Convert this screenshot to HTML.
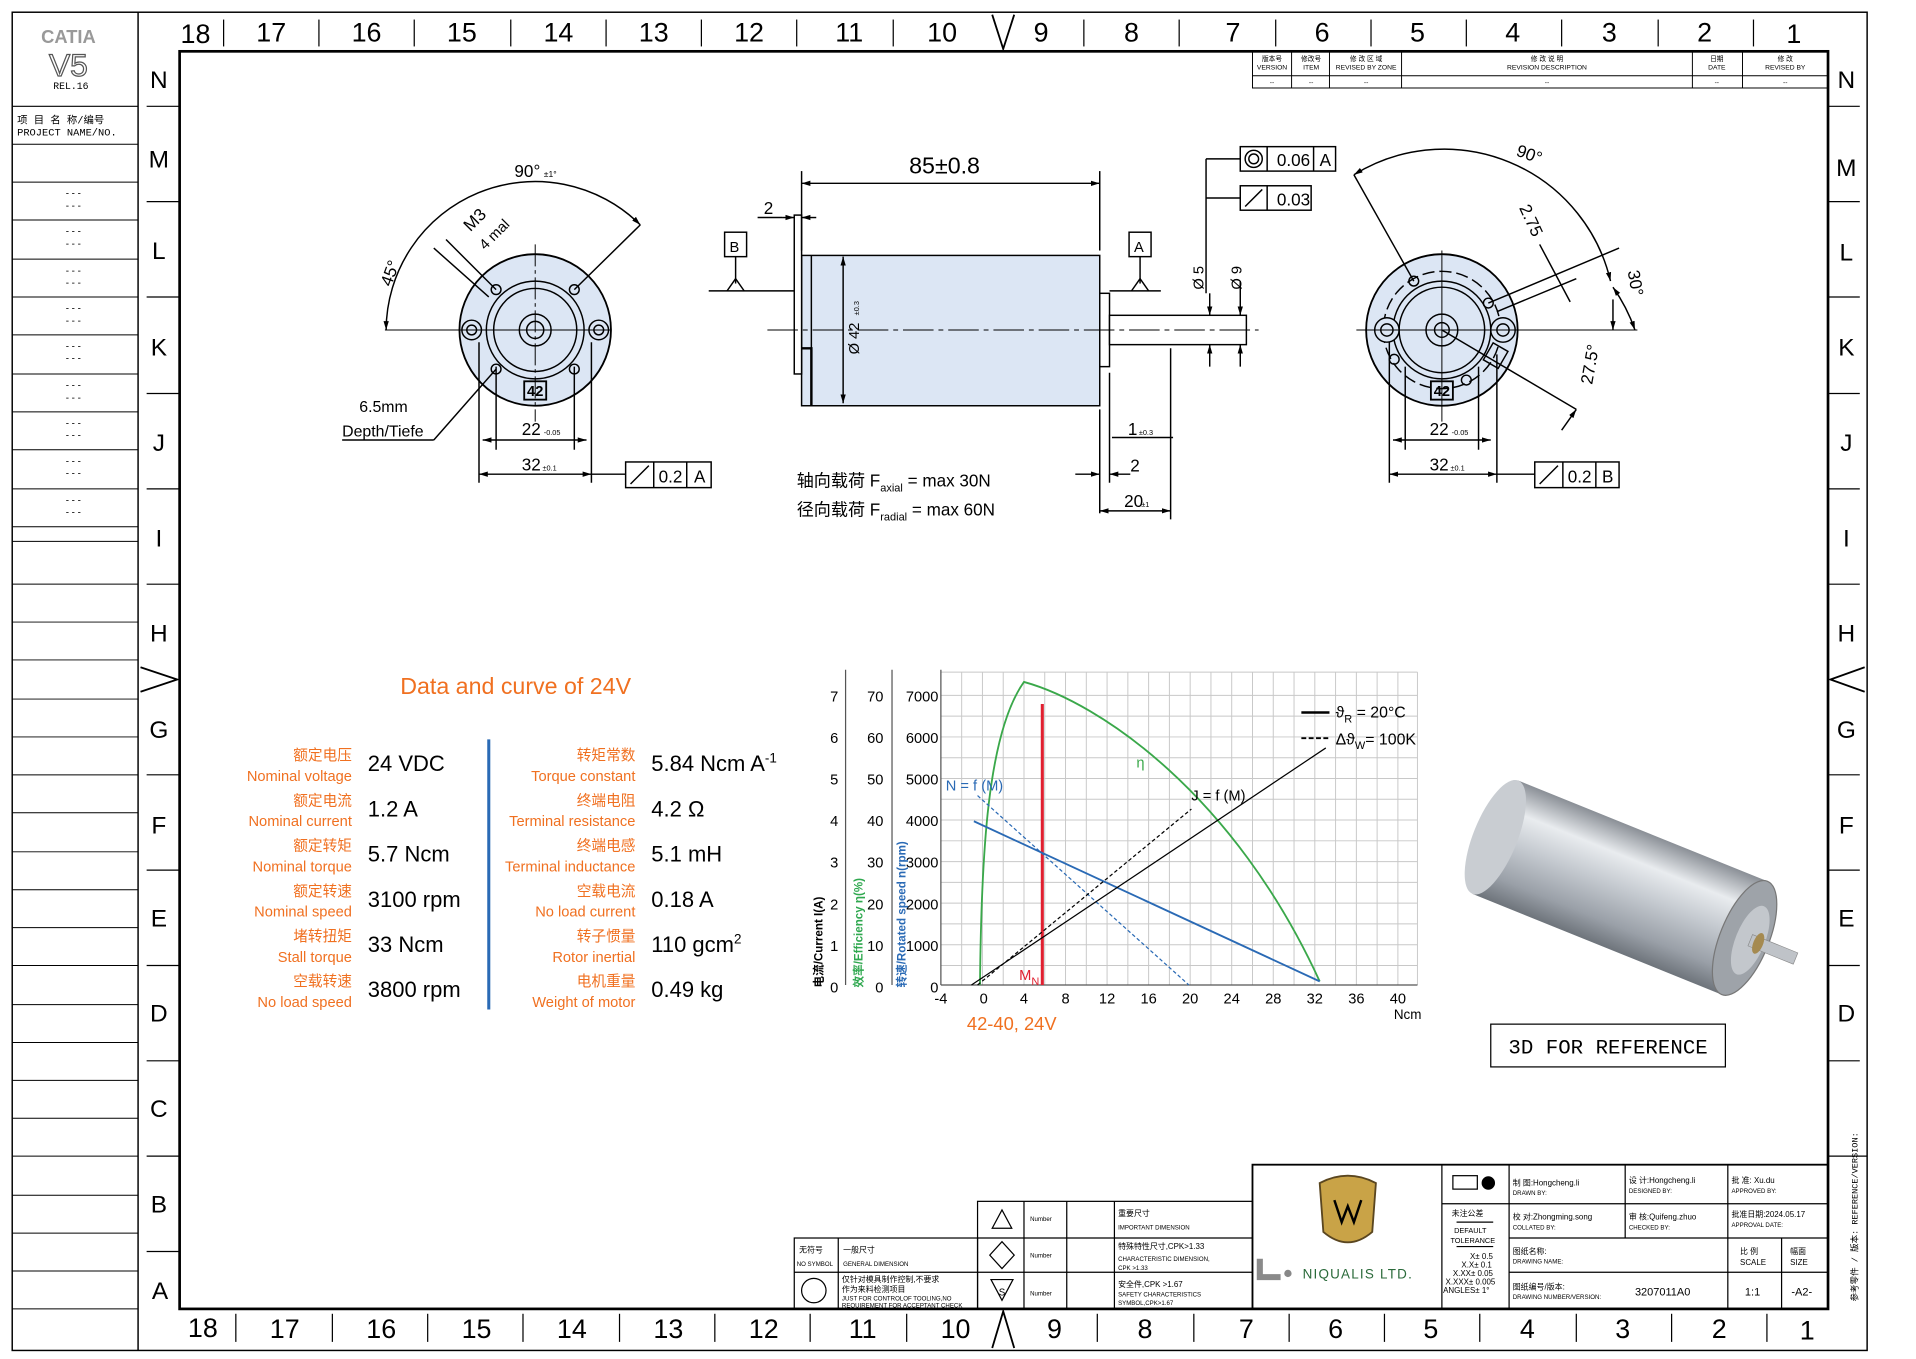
<!DOCTYPE html>
<html><head><meta charset="utf-8"><style>
html,body{margin:0;padding:0;background:#fff;}
svg{display:block;}
text{font-family:"Liberation Sans","Noto Sans CJK SC",sans-serif;}
.n{font-family:"Liberation Sans Narrow","Liberation Sans","Noto Sans CJK SC",sans-serif;}
.m{font-family:"Liberation Mono","Noto Sans CJK SC",monospace;}
</style></head><body>
<svg width="1916" height="1359" viewBox="0 0 1568 1112" preserveAspectRatio="none" xmlns="http://www.w3.org/2000/svg">
<defs>
<marker id="ar" viewBox="0 0 10 10" refX="10" refY="5" markerWidth="6" markerHeight="6" orient="auto-start-reverse"><path d="M0,2 L10,5 L0,8 z" fill="#000"/></marker>
<linearGradient id="cyl" x1="0" y1="0" x2="0" y2="1"><stop offset="0" stop-color="#8a8f96"/><stop offset="0.25" stop-color="#e9ecef"/><stop offset="0.5" stop-color="#c5cad0"/><stop offset="0.8" stop-color="#9aa0a8"/><stop offset="1" stop-color="#6e747b"/></linearGradient>
</defs>
<rect x="10" y="10" width="1518" height="1095" fill="none" stroke="#000" stroke-width="1.2"/>
<line x1="113" y1="10" x2="113" y2="1105" stroke="#000" stroke-width="1.2"/>
<rect x="147" y="42" width="1349" height="1029" fill="none" stroke="#000" stroke-width="2.2"/>
<text x="56" y="35" font-size="15" text-anchor="middle" fill="#999" font-weight="bold">CATIA</text>
<text x="56" y="62" font-size="26" text-anchor="middle" fill="#fff" stroke="#555" stroke-width="1">V5</text>
<text x="58" y="73" font-size="8" text-anchor="middle" class="m">REL.16</text>
<line x1="10" y1="87" x2="113" y2="87" stroke="#000"/>
<text x="14" y="101" font-size="8.5" class="m">项 目 名 称/编号</text>
<text x="14" y="111" font-size="8.5" class="m">PROJECT NAME/NO.</text>
<g stroke="#000" stroke-width="0.8">
<line x1="10" y1="118" x2="113" y2="118"/><line x1="10" y1="149" x2="113" y2="149"/><line x1="10" y1="180" x2="113" y2="180"/><line x1="10" y1="212" x2="113" y2="212"/><line x1="10" y1="243" x2="113" y2="243"/><line x1="10" y1="274" x2="113" y2="274"/><line x1="10" y1="306" x2="113" y2="306"/><line x1="10" y1="337" x2="113" y2="337"/><line x1="10" y1="368" x2="113" y2="368"/><line x1="10" y1="400" x2="113" y2="400"/><line x1="10" y1="431" x2="113" y2="431"/><line x1="10" y1="443" x2="113" y2="443"/>
<line x1="10" y1="478" x2="113" y2="478"/><line x1="10" y1="509" x2="113" y2="509"/><line x1="10" y1="540" x2="113" y2="540"/><line x1="10" y1="572" x2="113" y2="572"/><line x1="10" y1="603" x2="113" y2="603"/><line x1="10" y1="634" x2="113" y2="634"/><line x1="10" y1="665" x2="113" y2="665"/><line x1="10" y1="697" x2="113" y2="697"/><line x1="10" y1="728" x2="113" y2="728"/><line x1="10" y1="759" x2="113" y2="759"/><line x1="10" y1="790" x2="113" y2="790"/><line x1="10" y1="822" x2="113" y2="822"/><line x1="10" y1="853" x2="113" y2="853"/><line x1="10" y1="884" x2="113" y2="884"/><line x1="10" y1="915" x2="113" y2="915"/><line x1="10" y1="946" x2="113" y2="946"/><line x1="10" y1="978" x2="113" y2="978"/><line x1="10" y1="1009" x2="113" y2="1009"/><line x1="10" y1="1040" x2="113" y2="1040"/><line x1="10" y1="1071" x2="113" y2="1071"/>
</g>
<g font-size="8" text-anchor="middle" class="m">
<text x="60" y="161">- - -</text><text x="60" y="171">- - -</text>
<text x="60" y="192">- - -</text><text x="60" y="202">- - -</text>
<text x="60" y="224">- - -</text><text x="60" y="234">- - -</text>
<text x="60" y="255">- - -</text><text x="60" y="265">- - -</text>
<text x="60" y="286">- - -</text><text x="60" y="296">- - -</text>
<text x="60" y="318">- - -</text><text x="60" y="328">- - -</text>
<text x="60" y="349">- - -</text><text x="60" y="359">- - -</text>
<text x="60" y="380">- - -</text><text x="60" y="390">- - -</text>
<text x="60" y="412">- - -</text><text x="60" y="422">- - -</text>
</g>
<g font-size="22" text-anchor="middle">
<text x="160" y="35">18</text><text x="222" y="34">17</text><text x="300" y="34">16</text><text x="378" y="34">15</text><text x="457" y="34">14</text><text x="535" y="34">13</text><text x="613" y="34">12</text><text x="695" y="34">11</text><text x="771" y="34">10</text><text x="852" y="34">9</text><text x="926" y="34">8</text><text x="1009" y="34">7</text><text x="1082" y="34">6</text><text x="1160" y="34">5</text><text x="1238" y="34">4</text><text x="1317" y="34">3</text><text x="1395" y="34">2</text><text x="1468" y="35">1</text>
<text x="166" y="1094">18</text><text x="233" y="1095">17</text><text x="312" y="1095">16</text><text x="390" y="1095">15</text><text x="468" y="1095">14</text><text x="547" y="1095">13</text><text x="625" y="1095">12</text><text x="706" y="1095">11</text><text x="782" y="1095">10</text><text x="863" y="1095">9</text><text x="937" y="1095">8</text><text x="1020" y="1095">7</text><text x="1093" y="1095">6</text><text x="1171" y="1095">5</text><text x="1250" y="1095">4</text><text x="1328" y="1095">3</text><text x="1407" y="1095">2</text><text x="1479" y="1096">1</text>
</g>
<g stroke="#000" stroke-width="1">
<line x1="183" y1="16" x2="183" y2="38"/><line x1="261" y1="16" x2="261" y2="38"/><line x1="339" y1="16" x2="339" y2="38"/><line x1="418" y1="16" x2="418" y2="38"/><line x1="496" y1="16" x2="496" y2="38"/><line x1="574" y1="16" x2="574" y2="38"/><line x1="652" y1="16" x2="652" y2="38"/><line x1="731" y1="16" x2="731" y2="38"/><line x1="887" y1="16" x2="887" y2="38"/><line x1="965" y1="16" x2="965" y2="38"/><line x1="1044" y1="16" x2="1044" y2="38"/><line x1="1122" y1="16" x2="1122" y2="38"/><line x1="1200" y1="16" x2="1200" y2="38"/><line x1="1278" y1="16" x2="1278" y2="38"/><line x1="1357" y1="16" x2="1357" y2="38"/><line x1="1435" y1="16" x2="1435" y2="38"/>
<line x1="193" y1="1075" x2="193" y2="1098"/><line x1="272" y1="1075" x2="272" y2="1098"/><line x1="350" y1="1075" x2="350" y2="1098"/><line x1="428" y1="1075" x2="428" y2="1098"/><line x1="507" y1="1075" x2="507" y2="1098"/><line x1="585" y1="1075" x2="585" y2="1098"/><line x1="663" y1="1075" x2="663" y2="1098"/><line x1="742" y1="1075" x2="742" y2="1098"/><line x1="898" y1="1075" x2="898" y2="1098"/><line x1="977" y1="1075" x2="977" y2="1098"/><line x1="1055" y1="1075" x2="1055" y2="1098"/><line x1="1133" y1="1075" x2="1133" y2="1098"/><line x1="1211" y1="1075" x2="1211" y2="1098"/><line x1="1290" y1="1075" x2="1290" y2="1098"/><line x1="1368" y1="1075" x2="1368" y2="1098"/><line x1="1446" y1="1075" x2="1446" y2="1098"/>
<line x1="120" y1="87" x2="147" y2="87"/><line x1="120" y1="165" x2="147" y2="165"/><line x1="120" y1="243" x2="147" y2="243"/><line x1="120" y1="322" x2="147" y2="322"/><line x1="120" y1="400" x2="147" y2="400"/><line x1="120" y1="478" x2="147" y2="478"/><line x1="120" y1="634" x2="147" y2="634"/><line x1="120" y1="712" x2="147" y2="712"/><line x1="120" y1="790" x2="147" y2="790"/><line x1="120" y1="868" x2="147" y2="868"/><line x1="120" y1="946" x2="147" y2="946"/><line x1="120" y1="1024" x2="147" y2="1024"/>
<line x1="1496" y1="87" x2="1522" y2="87"/><line x1="1496" y1="165" x2="1522" y2="165"/><line x1="1496" y1="243" x2="1522" y2="243"/><line x1="1496" y1="322" x2="1522" y2="322"/><line x1="1496" y1="400" x2="1522" y2="400"/><line x1="1496" y1="478" x2="1522" y2="478"/><line x1="1496" y1="634" x2="1522" y2="634"/><line x1="1496" y1="712" x2="1522" y2="712"/><line x1="1496" y1="790" x2="1522" y2="790"/><line x1="1496" y1="868" x2="1522" y2="868"/>
</g>
<g fill="none" stroke="#000" stroke-width="1.5">
<path d="M812,12 L821,40 L830,12"/><path d="M812,1103 L821,1073 L830,1103"/>
<path d="M115,546 L145,556 L115,566"/><path d="M1526,546 L1498,556 L1526,566"/>
</g>
<g font-size="20" text-anchor="middle">
<text x="130" y="72">N</text><text x="130" y="137">M</text><text x="130" y="212">L</text><text x="130" y="291">K</text><text x="130" y="369">J</text><text x="130" y="447">I</text><text x="130" y="525">H</text><text x="130" y="604">G</text><text x="130" y="682">F</text><text x="130" y="758">E</text><text x="130" y="836">D</text><text x="130" y="914">C</text><text x="130" y="992">B</text><text x="131" y="1063">A</text>
<text x="1511" y="72">N</text><text x="1511" y="144">M</text><text x="1511" y="213">L</text><text x="1511" y="291">K</text><text x="1511" y="369">J</text><text x="1511" y="447">I</text><text x="1511" y="525">H</text><text x="1511" y="604">G</text><text x="1511" y="682">F</text><text x="1511" y="758">E</text><text x="1511" y="836">D</text>
</g>
<line x1="1496" y1="946" x2="1528" y2="946" stroke="#000"/>
<g stroke="#000" stroke-width="0.8" fill="none">
<rect x="1025" y="42" width="471" height="30"/>
<line x1="1025" y1="62" x2="1496" y2="62"/>
<line x1="1057" y1="42" x2="1057" y2="72"/><line x1="1088" y1="42" x2="1088" y2="72"/><line x1="1147" y1="42" x2="1147" y2="72"/><line x1="1385" y1="42" x2="1385" y2="72"/><line x1="1426" y1="42" x2="1426" y2="72"/>
</g>
<g font-size="5.5" text-anchor="middle" class="m">
<text x="1041" y="50">版本号</text><text x="1041" y="57">VERSION</text>
<text x="1073" y="50">修改号</text><text x="1073" y="57">ITEM</text>
<text x="1118" y="50">修 改 区 域</text><text x="1118" y="57">REVISED BY ZONE</text>
<text x="1266" y="50">修 改 说 明</text><text x="1266" y="57">REVISION DESCRIPTION</text>
<text x="1405" y="50">日期</text><text x="1405" y="57">DATE</text>
<text x="1461" y="50">修 改</text><text x="1461" y="57">REVISED BY</text>
<text x="1041" y="69">--</text><text x="1073" y="69">--</text><text x="1118" y="69">--</text><text x="1266" y="69">--</text><text x="1405" y="69">--</text><text x="1461" y="69">--</text>
</g>

<!-- LEFT VIEW -->
<g stroke="#000" fill="none" stroke-width="1.2">
<circle cx="438" cy="270" r="62" fill="#dce6f4" stroke-width="1.5"/>
<circle cx="438" cy="270" r="40"/><circle cx="438" cy="270" r="34"/><circle cx="438" cy="270" r="13"/><circle cx="438" cy="270" r="7"/>
<circle cx="406" cy="237" r="4"/><circle cx="470" cy="237" r="4"/><circle cx="406" cy="302" r="4"/><circle cx="470" cy="302" r="4"/>
<circle cx="386" cy="270" r="8"/><circle cx="386" cy="270" r="4"/><circle cx="490" cy="270" r="8"/><circle cx="490" cy="270" r="4"/>
<line x1="315" y1="270" x2="500" y2="270" stroke-width="0.8"/><line x1="438" y1="200" x2="438" y2="345" stroke-dasharray="18,3,3,3" stroke-width="0.8"/>
<path d="M316,270 A122,122 0 0 1 524,184" marker-start="url(#ar)" marker-end="url(#ar)"/>
<line x1="470" y1="237" x2="524" y2="184"/>
<line x1="406" y1="237" x2="365" y2="196"/><line x1="400" y1="243" x2="355" y2="203"/>
<line x1="406" y1="302" x2="355" y2="360"/><line x1="280" y1="360" x2="355" y2="360"/>
<line x1="406" y1="300" x2="406" y2="368"/><line x1="470" y1="300" x2="470" y2="368"/>
<line x1="395" y1="360" x2="480" y2="360" marker-start="url(#ar)" marker-end="url(#ar)"/>
<line x1="392" y1="280" x2="392" y2="395"/><line x1="484" y1="280" x2="484" y2="395"/>
<line x1="392" y1="388" x2="484" y2="388" marker-start="url(#ar)" marker-end="url(#ar)"/>
<line x1="484" y1="388" x2="512" y2="388"/>
<rect x="429" y="312" width="18" height="15" stroke-width="1.5"/>
<rect x="512" y="378" width="70" height="21"/><line x1="535" y1="378" x2="535" y2="399"/><line x1="562" y1="378" x2="562" y2="399"/>
<line x1="516" y1="396" x2="531" y2="381"/>
</g>
<g class="n" font-size="14">
<text x="421" y="145">90°</text><text x="445" y="145" font-size="7">±1°</text>
<text x="320" y="235" transform="rotate(-70 320 235)">45°</text>
<text x="385" y="190" transform="rotate(-45 385 190)">M3</text>
<text x="397" y="205" transform="rotate(-45 397 205)" font-size="12">4 mal</text>
<text x="294" y="337" font-size="13">6.5mm</text><text x="280" y="357" font-size="13">Depth/Tiefe</text>
<text x="438" y="324" font-size="12" text-anchor="middle" font-weight="bold">42</text>
<text x="427" y="356">22</text><text x="445" y="356" font-size="6">-0.05</text>
<text x="427" y="385">32</text><text x="444" y="385" font-size="6">±0.1</text>
<text x="539" y="395">0.2</text><text x="568" y="395">A</text>
</g>

<!-- SIDE VIEW -->
<g stroke="#000" fill="none" stroke-width="1.2">
<rect x="656" y="209" width="244" height="123" fill="#dce6f4"/>
<line x1="664" y1="209" x2="664" y2="332"/>
<rect x="650" y="176" width="6" height="130" fill="#fff"/>
<path d="M656,285 L664,285 L664,332" stroke-width="2"/>
<rect x="900" y="240" width="8" height="60" fill="#fff"/>
<rect x="908" y="258" width="112" height="24" fill="#fff"/>
<line x1="628" y1="270" x2="1030" y2="270" stroke-dasharray="25,4,4,4" stroke-width="0.8"/>
<line x1="656" y1="140" x2="656" y2="205"/><line x1="900" y1="140" x2="900" y2="205"/>
<line x1="656" y1="150" x2="900" y2="150" marker-start="url(#ar)" marker-end="url(#ar)"/>
<line x1="640" y1="178" x2="650" y2="178" marker-end="url(#ar)"/><line x1="668" y1="178" x2="656" y2="178" marker-end="url(#ar)"/><line x1="620" y1="178" x2="640" y2="178"/>
<rect x="593" y="190" width="18" height="20" fill="#fff"/><line x1="602" y1="210" x2="602" y2="232"/><path d="M595,238 L602,228 L609,238"/>
<line x1="580" y1="238" x2="650" y2="238"/>
<rect x="924" y="190" width="18" height="20" fill="#fff"/><line x1="933" y1="210" x2="933" y2="232"/><path d="M926,238 L933,228 L940,238"/>
<line x1="908" y1="238" x2="950" y2="238"/>
<line x1="690" y1="210" x2="690" y2="330" marker-start="url(#ar)" marker-end="url(#ar)"/>
<line x1="990" y1="240" x2="990" y2="258" marker-end="url(#ar)"/><line x1="990" y1="300" x2="990" y2="282" marker-end="url(#ar)"/>
<line x1="1015" y1="230" x2="1015" y2="258" marker-end="url(#ar)"/><line x1="1015" y1="300" x2="1015" y2="282" marker-end="url(#ar)"/>
<line x1="987" y1="130" x2="1015" y2="130"/><line x1="987" y1="130" x2="987" y2="240"/>
<line x1="987" y1="162" x2="1015" y2="162"/>
<rect x="1015" y="120" width="78" height="20"/><line x1="1037" y1="120" x2="1037" y2="140"/><line x1="1075" y1="120" x2="1075" y2="140"/>
<circle cx="1026" cy="130" r="7"/><circle cx="1026" cy="130" r="4"/>
<rect x="1015" y="152" width="58" height="20"/><line x1="1037" y1="152" x2="1037" y2="172"/><line x1="1019" y1="169" x2="1033" y2="155"/>
<line x1="900" y1="335" x2="900" y2="420"/><line x1="908" y1="305" x2="908" y2="395"/><line x1="958" y1="285" x2="958" y2="425"/>
<line x1="880" y1="388" x2="900" y2="388" marker-end="url(#ar)"/><line x1="925" y1="388" x2="908" y2="388" marker-end="url(#ar)"/>
<line x1="900" y1="418" x2="958" y2="418" marker-start="url(#ar)" marker-end="url(#ar)"/>
<line x1="910" y1="358" x2="960" y2="358"/>
</g>
<g class="n" font-size="14">
<text x="773" y="142" font-size="19" text-anchor="middle">85±0.8</text>
<text x="625" y="175">2</text>
<text x="597" y="206" font-size="12">B</text><text x="928" y="206" font-size="12">A</text>
<text x="703" y="290" font-size="12" transform="rotate(-90 703 290)">Ø 42</text><text x="703" y="258" font-size="6" transform="rotate(-90 703 258)">±0.3</text>
<text x="985" y="237" font-size="12" transform="rotate(-90 985 237)">Ø 5</text><text x="1016" y="237" font-size="12" transform="rotate(-90 1016 237)">Ø 9</text>
<text x="1045" y="136">0.06</text><text x="1080" y="136">A</text><text x="1045" y="168">0.03</text>
<text x="923" y="356">1</text><text x="932" y="356" font-size="6">±0.3</text>
<text x="925" y="386">2</text>
<text x="920" y="415">20</text><text x="934" y="415" font-size="6">±1</text>
</g>
<text x="652" y="398" font-size="14">轴向载荷 F<tspan font-size="9" dy="4">axial</tspan><tspan dy="-4"> = max 30N</tspan></text>
<text x="652" y="422" font-size="14">径向载荷 F<tspan font-size="9" dy="4">radial</tspan><tspan dy="-4"> = max 60N</tspan></text>

<!-- RIGHT VIEW -->
<g stroke="#000" fill="none" stroke-width="1.2">
<circle cx="1180" cy="270" r="62" fill="#dce6f4" stroke-width="1.5"/>
<circle cx="1180" cy="270" r="40"/><circle cx="1180" cy="270" r="35"/><circle cx="1180" cy="270" r="13"/><circle cx="1180" cy="270" r="6"/>
<circle cx="1180" cy="270" r="48" stroke-dasharray="10,4"/>
<circle cx="1135" cy="270" r="10" fill="#dce6f4"/><circle cx="1135" cy="270" r="5"/>
<circle cx="1230" cy="270" r="10" fill="#dce6f4"/><circle cx="1230" cy="270" r="5"/>
<circle cx="1157" cy="230" r="4"/><circle cx="1218" cy="248" r="4"/><circle cx="1141" cy="294" r="4"/><circle cx="1200" cy="311" r="4"/>
<rect x="1217" y="283" width="14" height="16" transform="rotate(30 1224 291)"/>
<line x1="1110" y1="270" x2="1340" y2="270" stroke-width="0.8"/><line x1="1180" y1="205" x2="1180" y2="345" stroke-width="0.8"/>
<path d="M1108,143 A140,140 0 0 1 1318,230" marker-start="url(#ar)" marker-end="url(#ar)"/>
<path d="M1320,235 A140,140 0 0 1 1338,270" marker-start="url(#ar)" marker-end="url(#ar)"/>
<line x1="1157" y1="230" x2="1108" y2="143"/>
<line x1="1218" y1="248" x2="1325" y2="203"/><line x1="1225" y1="255" x2="1290" y2="228"/>
<line x1="1260" y1="200" x2="1285" y2="247"/>
<line x1="1320" y1="245" x2="1320" y2="270" marker-end="url(#ar)"/>
<line x1="1180" y1="270" x2="1290" y2="335"/>
<line x1="1290" y1="335" x2="1278" y2="352" marker-start="url(#ar)"/>
<line x1="1150" y1="300" x2="1150" y2="368"/><line x1="1210" y1="300" x2="1210" y2="368"/>
<line x1="1140" y1="360" x2="1220" y2="360" marker-start="url(#ar)" marker-end="url(#ar)"/>
<line x1="1137" y1="280" x2="1137" y2="395"/><line x1="1225" y1="290" x2="1225" y2="395"/>
<line x1="1137" y1="388" x2="1225" y2="388" marker-start="url(#ar)" marker-end="url(#ar)"/>
<line x1="1225" y1="388" x2="1256" y2="388"/>
<rect x="1171" y="312" width="18" height="15" stroke-width="1.5"/>
<rect x="1256" y="378" width="69" height="21"/><line x1="1279" y1="378" x2="1279" y2="399"/><line x1="1306" y1="378" x2="1306" y2="399"/>
<line x1="1260" y1="396" x2="1275" y2="381"/>
</g>
<g class="n" font-size="14">
<text x="1240" y="127" transform="rotate(20 1240 127)">90°</text>
<text x="1332" y="222" transform="rotate(80 1332 222)">30°</text>
<text x="1243" y="170" transform="rotate(65 1243 170)">2.75</text>
<text x="1303" y="315" transform="rotate(-80 1303 315)">27.5°</text>
<text x="1180" y="324" font-size="12" text-anchor="middle" font-weight="bold">42</text>
<text x="1170" y="356">22</text><text x="1188" y="356" font-size="6">-0.05</text>
<text x="1170" y="385">32</text><text x="1187" y="385" font-size="6">±0.1</text>
<text x="1283" y="395">0.2</text><text x="1311" y="395">B</text>
</g>

<!-- DATA -->
<text x="422" y="568" font-size="19" fill="#f07020" text-anchor="middle">Data and curve of 24V</text>
<line x1="400" y1="605" x2="400" y2="826" stroke="#2a6ab5" stroke-width="2.5"/>
<g font-size="12" fill="#f07020" text-anchor="end">
<text x="288" y="622">额定电压</text><text x="288" y="639">Nominal voltage</text>
<text x="288" y="659">额定电流</text><text x="288" y="676">Nominal current</text>
<text x="288" y="696">额定转矩</text><text x="288" y="713">Nominal torque</text>
<text x="288" y="733">额定转速</text><text x="288" y="750">Nominal speed</text>
<text x="288" y="770">堵转扭矩</text><text x="288" y="787">Stall torque</text>
<text x="288" y="807">空载转速</text><text x="288" y="824">No load speed</text>
<text x="520" y="622">转矩常数</text><text x="520" y="639">Torque constant</text>
<text x="520" y="659">终端电阻</text><text x="520" y="676">Terminal resistance</text>
<text x="520" y="696">终端电感</text><text x="520" y="713">Terminal inductance</text>
<text x="520" y="733">空载电流</text><text x="520" y="750">No load current</text>
<text x="520" y="770">转子惯量</text><text x="520" y="787">Rotor inertial</text>
<text x="520" y="807">电机重量</text><text x="520" y="824">Weight of motor</text>
</g>
<g font-size="18">
<text x="301" y="631">24 VDC</text><text x="301" y="668">1.2 A</text><text x="301" y="705">5.7 Ncm</text><text x="301" y="742">3100 rpm</text><text x="301" y="779">33 Ncm</text><text x="301" y="816">3800 rpm</text>
<text x="533" y="631">5.84 Ncm A<tspan font-size="11" dy="-7">-1</tspan></text><text x="533" y="668">4.2 Ω</text><text x="533" y="705">5.1 mH</text><text x="533" y="742">0.18 A</text><text x="533" y="779">110 gcm<tspan font-size="11" dy="-7">2</tspan></text><text x="533" y="816">0.49 kg</text>
</g>

<!-- CHART -->
<g stroke="#c8c8c8" stroke-width="0.8">
<line x1="770" y1="550" x2="770" y2="806"/><line x1="787" y1="550" x2="787" y2="806"/><line x1="804" y1="550" x2="804" y2="806"/><line x1="821" y1="550" x2="821" y2="806"/><line x1="838" y1="550" x2="838" y2="806"/><line x1="855" y1="550" x2="855" y2="806"/><line x1="872" y1="550" x2="872" y2="806"/><line x1="889" y1="550" x2="889" y2="806"/><line x1="906" y1="550" x2="906" y2="806"/><line x1="923" y1="550" x2="923" y2="806"/><line x1="940" y1="550" x2="940" y2="806"/><line x1="957" y1="550" x2="957" y2="806"/><line x1="974" y1="550" x2="974" y2="806"/><line x1="991" y1="550" x2="991" y2="806"/><line x1="1008" y1="550" x2="1008" y2="806"/><line x1="1025" y1="550" x2="1025" y2="806"/><line x1="1042" y1="550" x2="1042" y2="806"/><line x1="1059" y1="550" x2="1059" y2="806"/><line x1="1076" y1="550" x2="1076" y2="806"/><line x1="1093" y1="550" x2="1093" y2="806"/><line x1="1110" y1="550" x2="1110" y2="806"/><line x1="1127" y1="550" x2="1127" y2="806"/><line x1="1144" y1="550" x2="1144" y2="806"/><line x1="1160" y1="550" x2="1160" y2="806"/>
<line x1="770" y1="550" x2="1160" y2="550"/><line x1="770" y1="569" x2="1160" y2="569"/><line x1="770" y1="586" x2="1160" y2="586"/><line x1="770" y1="603" x2="1160" y2="603"/><line x1="770" y1="620" x2="1160" y2="620"/><line x1="770" y1="637" x2="1160" y2="637"/><line x1="770" y1="654" x2="1160" y2="654"/><line x1="770" y1="671" x2="1160" y2="671"/><line x1="770" y1="688" x2="1160" y2="688"/><line x1="770" y1="705" x2="1160" y2="705"/><line x1="770" y1="722" x2="1160" y2="722"/><line x1="770" y1="739" x2="1160" y2="739"/><line x1="770" y1="756" x2="1160" y2="756"/><line x1="770" y1="773" x2="1160" y2="773"/><line x1="770" y1="790" x2="1160" y2="790"/>
</g>
<line x1="770" y1="806" x2="1160" y2="806" stroke="#555" stroke-width="1"/>
<g stroke="#555" stroke-width="1"><line x1="692" y1="548" x2="692" y2="806"/><line x1="730" y1="548" x2="730" y2="806"/><line x1="770" y1="548" x2="770" y2="806"/></g>
<g class="n" font-size="12" text-anchor="end">
<text x="686" y="574">7</text><text x="686" y="608">6</text><text x="686" y="642">5</text><text x="686" y="676">4</text><text x="686" y="710">3</text><text x="686" y="744">2</text><text x="686" y="778">1</text><text x="686" y="812">0</text>
<text x="723" y="574">70</text><text x="723" y="608">60</text><text x="723" y="642">50</text><text x="723" y="676">40</text><text x="723" y="710">30</text><text x="723" y="744">20</text><text x="723" y="778">10</text><text x="723" y="812">0</text>
<text x="768" y="574">7000</text><text x="768" y="608">6000</text><text x="768" y="642">5000</text><text x="768" y="676">4000</text><text x="768" y="710">3000</text><text x="768" y="744">2000</text><text x="768" y="778">1000</text><text x="768" y="812">0</text>
</g>
<g class="n" font-size="12" text-anchor="middle">
<text x="770" y="821">-4</text><text x="805" y="821">0</text><text x="838" y="821">4</text><text x="872" y="821">8</text><text x="906" y="821">12</text><text x="940" y="821">16</text><text x="974" y="821">20</text><text x="1008" y="821">24</text><text x="1042" y="821">28</text><text x="1076" y="821">32</text><text x="1110" y="821">36</text><text x="1144" y="821">40</text>
<text x="1152" y="834" font-size="11">Ncm</text>
</g>
<text x="673" y="808" font-size="9.5" transform="rotate(-90 673 808)" font-weight="bold">电流/Current I(A)</text>
<text x="706" y="808" font-size="9.5" transform="rotate(-90 706 808)" fill="#2fa84f" font-weight="bold">效率/Efficiency η(%)</text>
<text x="741" y="808" font-size="9.5" transform="rotate(-90 741 808)" fill="#2a6ab5" font-weight="bold">转速/Rotated speed n(rpm)</text>
<path d="M802,806 C803,700 808,600 838,558 C900,575 1010,650 1080,803" fill="none" stroke="#3aa84a" stroke-width="1.5"/>
<line x1="853" y1="576" x2="853" y2="806" stroke="#e02030" stroke-width="2.5"/>
<text x="834" y="802" font-size="12" fill="#e02030" class="n">M<tspan font-size="9" dy="4">N</tspan></text>
<line x1="797" y1="672" x2="1080" y2="803" stroke="#2a6ab5" stroke-width="1.5"/>
<line x1="800" y1="651" x2="973" y2="806" stroke="#2a6ab5" stroke-width="1" stroke-dasharray="3,2"/>
<text x="774" y="647" font-size="12" fill="#2a6ab5" class="n">N = f (M)</text>
<line x1="795" y1="806" x2="1085" y2="612" stroke="#000" stroke-width="1"/>
<line x1="800" y1="806" x2="975" y2="662" stroke="#000" stroke-width="1" stroke-dasharray="3,2"/>
<text x="975" y="655" font-size="12" class="n">J = f (M)</text>
<text x="930" y="628" font-size="12" fill="#3aa84a">η</text>
<line x1="1065" y1="583" x2="1088" y2="583" stroke="#000" stroke-width="2"/>
<line x1="1065" y1="604" x2="1088" y2="604" stroke="#000" stroke-width="1.5" stroke-dasharray="4,2"/>
<text x="1093" y="587" font-size="13" class="n">ϑ<tspan font-size="9" dy="4">R</tspan><tspan dy="-4"> = 20°C</tspan></text>
<text x="1093" y="609" font-size="13" class="n">Δϑ<tspan font-size="9" dy="4">W</tspan><tspan dy="-4">= 100K</tspan></text>
<text x="828" y="843" font-size="15" fill="#f07020" text-anchor="middle">42-40, 24V</text>

<!-- 3D MOTOR -->
<g transform="rotate(22 1335 730)">
<rect x="1215" y="680" width="220" height="100" fill="url(#cyl)"/>
<ellipse cx="1215" cy="730" rx="18" ry="50" fill="#c9cdd2"/>
<ellipse cx="1435" cy="730" rx="20" ry="50" fill="#9ea3a9" stroke="#777"/>
<ellipse cx="1440" cy="730" rx="12" ry="30" fill="#c3c7cc"/>
<rect x="1440" y="725" width="40" height="10" fill="#bfc3c8" stroke="#888" stroke-width="0.5"/>
<ellipse cx="1447" cy="730" rx="4" ry="9" fill="#a58a50"/>
</g>
<rect x="1220" y="838" width="192" height="35" fill="#fff" stroke="#000" stroke-width="1"/>
<text x="1316" y="862" font-size="17" text-anchor="middle" class="m">3D FOR REFERENCE</text>

<!-- TITLE BLOCK -->
<g stroke="#000" fill="none" stroke-width="1">
<rect x="650" y="1013" width="150" height="58"/><line x1="650" y1="1041" x2="800" y2="1041"/><line x1="686" y1="1013" x2="686" y2="1071"/>
<rect x="800" y="983" width="225" height="88"/><line x1="800" y1="1013" x2="1025" y2="1013"/><line x1="800" y1="1041" x2="1025" y2="1041"/>
<line x1="838" y1="983" x2="838" y2="1071"/><line x1="873" y1="983" x2="873" y2="1071"/><line x1="912" y1="983" x2="912" y2="1071"/>
<rect x="1025" y="953" width="471" height="118" stroke-width="1.5"/>
<line x1="1180" y1="953" x2="1180" y2="1071"/><line x1="1235" y1="953" x2="1235" y2="1071"/>
<line x1="1180" y1="985" x2="1496" y2="985"/><line x1="1235" y1="1013" x2="1496" y2="1013"/><line x1="1235" y1="1041" x2="1496" y2="1041"/>
<line x1="1330" y1="953" x2="1330" y2="1013"/><line x1="1414" y1="953" x2="1414" y2="1071"/><line x1="1458" y1="1013" x2="1458" y2="1071"/>
<circle cx="666" cy="1056" r="10"/>
<path d="M820,990 L828,1005 L812,1005 Z"/>
<path d="M820,1016 L830,1027 L820,1038 L810,1027 Z"/>
<path d="M811,1047 L829,1047 L820,1064 Z"/>
<rect x="1189" y="962" width="20" height="11"/><circle cx="1218" cy="968" r="5" fill="#000"/>
<line x1="1192" y1="1000" x2="1222" y2="1000"/><line x1="1192" y1="1020" x2="1222" y2="1020"/>
</g>
<text x="820" y="1060" font-size="8" text-anchor="middle">S</text>
<g font-size="6.5" class="m">
<text x="654" y="1025">无符号</text><text x="690" y="1025">一般尺寸</text>
<text x="652" y="1036" font-size="5">NO SYMBOL</text><text x="690" y="1036" font-size="5">GENERAL DIMENSION</text>
<text x="689" y="1049">仅针对模具制作控制,不要求</text><text x="689" y="1057">作为来料检测项目</text><text x="689" y="1064" font-size="5">JUST FOR CONTROLOF TOOLING,NO</text><text x="689" y="1070" font-size="5">REQUIREMENT FOR ACCEPTANT CHECK</text>
<text x="843" y="999" font-size="5">Number</text><text x="843" y="1029" font-size="5">Number</text><text x="843" y="1060" font-size="5">Number</text>
<text x="915" y="995">重要尺寸</text><text x="915" y="1006" font-size="5">IMPORTANT DIMENSION</text>
<text x="915" y="1022">特殊特性尺寸,CPK&gt;1.33</text><text x="915" y="1032" font-size="5">CHARACTERISTIC DIMENSION,</text><text x="915" y="1039" font-size="5">CPK &gt;1.33</text>
<text x="915" y="1053">安全件,CPK &gt;1.67</text><text x="915" y="1061" font-size="5">SAFETY CHARACTERISTICS</text><text x="915" y="1068" font-size="5">SYMBOL,CPK&gt;1.67</text>
<text x="1238" y="970">制  图:Hongcheng.li</text><text x="1238" y="978" font-size="5">DRAWN BY:</text>
<text x="1333" y="968">设  计:Hongcheng.li</text><text x="1333" y="976" font-size="5">DESIGNED BY:</text>
<text x="1417" y="968">批  准:  Xu.du</text><text x="1417" y="976" font-size="5">APPROVED BY:</text>
<text x="1238" y="998">校  对:Zhongming.song</text><text x="1238" y="1006" font-size="5">COLLATED BY:</text>
<text x="1333" y="998">审  核:Quifeng.zhuo</text><text x="1333" y="1006" font-size="5">CHECKED BY:</text>
<text x="1417" y="996">批准日期:2024.05.17</text><text x="1417" y="1004" font-size="5">APPROVAL DATE:</text>
<text x="1238" y="1026">图纸名称:</text><text x="1238" y="1034" font-size="5">DRAWING NAME:</text>
<text x="1238" y="1055">图纸编号/版本:</text><text x="1238" y="1063" font-size="5">DRAWING NUMBER/VERSION:</text>
<text x="1424" y="1026">比 例</text><text x="1424" y="1035">SCALE</text>
<text x="1465" y="1026">幅面</text><text x="1465" y="1035">SIZE</text>
<text x="1188" y="995">未注公差</text>
<text x="1190" y="1009" font-size="6">DEFAULT</text><text x="1187" y="1017" font-size="6">TOLERANCE</text>
<text x="1203" y="1030">X± 0.5</text><text x="1196" y="1037">X.X± 0.1</text><text x="1189" y="1044">X.XX± 0.05</text><text x="1183" y="1051">X.XXX± 0.005</text><text x="1181" y="1058">ANGLES± 1°</text>
</g>
<text x="1338" y="1060" font-size="9">3207011A0</text>
<text x="1428" y="1060" font-size="9">1:1</text><text x="1466" y="1060" font-size="9">-A2-</text>
<text x="1520" y="1065" font-size="7" transform="rotate(-90 1520 1065)" class="m">参考零件 / 版本: REFERENCE/VERSION:</text>
<path d="M1080,968 Q1103,956 1126,968 L1123,1008 Q1103,1025 1083,1008 Z" fill="#c9a347" stroke="#5a4620" stroke-width="1.5"/>
<path d="M1092,982 L1098,1000 L1103,987 L1108,1000 L1114,982" fill="none" stroke="#000" stroke-width="2"/>
<path d="M1031,1030 L1031,1045 L1048,1045" fill="none" stroke="#8a8a8a" stroke-width="5"/>
<circle cx="1054" cy="1042" r="3" fill="#888"/>
<text x="1066" y="1046" font-size="11" fill="#2a6a3a" letter-spacing="1">NIQUALIS LTD.</text>
</svg>
</body></html>
